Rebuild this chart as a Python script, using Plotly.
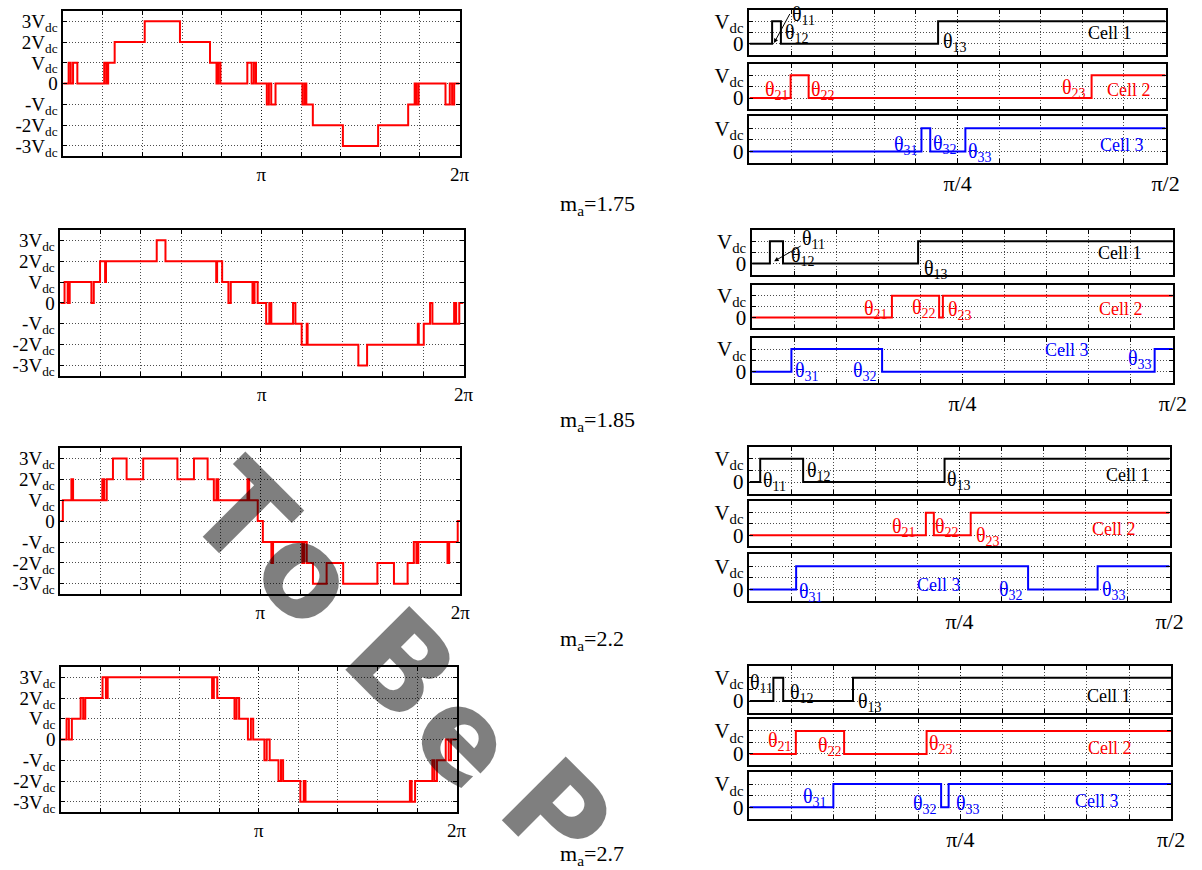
import plotly.graph_objects as go

# ---------------- data (angles in degrees) ----------------
MA_VALUES = ["1.75", "1.85", "2.2", "2.7"]
CELL1_ANGLES = [[4.9, 6.8, 40.8], [3.8, 6.6, 35.5], [2.3, 11.5, 41.8], [5.1, 7.2, 22.1]]
CELL2_ANGLES = [[8.9, 12.8, 74.0], [29.9, 40.0, 40.8], [37.8, 39.5, 47.4], [9.9, 20.2, 37.8]]
CELL3_ANGLES = [[37.2, 39.1, 46.7], [8.4, 27.8, 86.1], [10.0, 59.7, 74.6], [17.9, 40.9, 42.5]]
CELL_NAMES = ["Cell 1", "Cell 2", "Cell 3"]
LEFT_Y_VALS = [-3, -2, -1, 0, 1, 2, 3]
LEFT_Y_TEXT = ["-3V<sub>dc</sub>", "-2V<sub>dc</sub>", "-V<sub>dc</sub>", "0",
               "V<sub>dc</sub>", "2V<sub>dc</sub>", "3V<sub>dc</sub>"]
LEFT_X_VALS = [180, 360]
LEFT_X_TEXT = ["π", "2π"]
RIGHT_X_VALS = [45, 90]
RIGHT_X_TEXT = ["π/4", "π/2"]
RIGHT_Y_VALS = [0, 1]
RIGHT_Y_TEXT = ["0", "V<sub>dc</sub>"]
WATERMARK = ["T", "o", "B", "e", "P"]

# ---------------- layout geometry (window pixels) ----------------
W, H = 1202, 870
LEFT_BOX = [(64, 465, 10, 156), (61, 469, 230, 376.7), (61, 465.7, 449, 596), (61.7, 462, 669, 815)]
RIGHT_BOX = [(758.3, 1179.3, [(9, 54.3), (63, 109), (116, 163)]),
             (761, 1186.7, [(230, 275), (285, 329), (338.3, 384)]),
             (758.3, 1183.3, [(448, 495), (502.7, 548), (556, 603)]),
             (758.3, 1185, [(668, 715), (721.7, 768), (775, 821.7)])]
LABEL_POS = [
    [[(11.7, 1.25), (10.3, 0.45), (44.5, 0.07), (78, 0.47)],
     [(5.9, 0.33), (16, 0.33), (70.2, 0.4), (82, 0.36)],
     [(33.9, 0.25), (42.3, 0.32), (49.9, -0.03), (80.5, 0.3)]],
    [[(13.2, 1.06), (10.9, 0.31), (39.3, -0.26), (78.7, 0.46)],
     [(26.5, 0.37), (36.8, 0.41), (44.5, 0.34), (79, 0.37)],
     [(11.8, 0.03), (24.2, 0.03), (82.9, 0.54), (67.4, 0.96)]],
    [[(5.3, 0.03), (15, 0.43), (44.9, 0.07), (81.2, 0.31)],
     [(33.2, 0.36), (42.4, 0.36), (51.2, -0.07), (78, 0.26)],
     [(13.1, -0.13), (56, -0.03), (78, -0.03), (40.6, 0.18)]],
    [[(2.6, 0.73), (11.3, 0.32), (25.7, -0.07), (76.7, 0.23)],
     [(6.5, 0.54), (17.1, 0.32), (40.8, 0.39), (77, 0.25)],
     [(13.9, 0.44), (37.5, 0.11), (46.6, 0.11), (74.2, 0.25)]],
]
ARROWS = {0: ((5.3, 0.03), (8.9, 1.39)), 1: ((4.7, 0.1), (10.7, 0.82))}
MA_POS = [205, 422, 642, 858]
WM_POS = [(244.7, 516), (311, 575.5), (406, 666.7), (471, 739), (563, 816.7)]

CELL_COLORS = ["black", "red", "blue"]
SERIF = "Liberation Serif"
GRID_DASH = "1px,2px"
GRID_COLOR = "rgba(0,0,0,0.7)"


def px_x(a):
    return a / W


def px_y(b):
    return 1 - b / H


def xd(a, b):
    return [px_x(a), px_x(b)]


def yd(top, bottom):
    return [px_y(bottom), px_y(top)]


def cell_on(t, a):
    return (a[0] <= t < a[1]) or (t >= a[2])


def output_level(t, cells):
    # total output = sum of the three cells, with quarter-wave symmetry over the period
    if t >= 180:
        return -output_level(t - 180, cells)
    if t >= 90:
        return output_level(180 - t, cells)
    return sum(1 for a in cells if cell_on(t, a))


def axis_style(fontsize, minor_vals):
    return dict(showgrid=True, griddash=GRID_DASH, gridcolor=GRID_COLOR, gridwidth=1,
                showline=True, linecolor="black", linewidth=1.6, mirror="ticks",
                ticks="inside", ticklen=4, tickcolor="black", zeroline=False,
                tickfont=dict(family=SERIF, size=fontsize, color="black"),
                minor=dict(tickmode="array", tickvals=minor_vals, showgrid=True, griddash=GRID_DASH,
                           gridcolor=GRID_COLOR, gridwidth=1, ticks="inside",
                           ticklen=4, tickcolor="black"))


fig = go.Figure()
layout = {}
annotations = []
axis_idx = 0

for r in range(4):
    cells = [CELL1_ANGLES[r], CELL2_ANGLES[r], CELL3_ANGLES[r]]
    # ----- left: output voltage over a full period -----
    axis_idx += 1
    k = axis_idx
    pts = {0.0, 90.0, 180.0, 270.0, 360.0}
    for a in cells:
        for th in a:
            pts.update({th, 180 - th, 180 + th, 360 - th})
    bp = sorted(pts)
    xs, ys = [], []
    for i in range(len(bp) - 1):
        xs.append(bp[i])
        ys.append(output_level(0.5 * (bp[i] + bp[i + 1]), cells))
    xs.append(360)
    ys.append(ys[-1])
    fig.add_trace(go.Scatter(x=xs, y=ys, mode="lines", line=dict(color="red", width=2, shape="hv"),
                             xaxis=f"x{k}", yaxis=f"y{k}", showlegend=False, hoverinfo="skip"))
    x0, x1, t0, t1 = LEFT_BOX[r]
    layout[f"xaxis{k}"] = dict(domain=xd(x0, x1), anchor=f"y{k}", range=[0, 360],
                               tickmode="array", tickvals=LEFT_X_VALS, ticktext=LEFT_X_TEXT,
                               **axis_style(19, list(range(36, 360, 36))))
    layout[f"yaxis{k}"] = dict(domain=yd(t0, t1), anchor=f"x{k}", range=[-3.5, 3.5],
                               tickmode="array", tickvals=LEFT_Y_VALS, ticktext=LEFT_Y_TEXT,
                               **axis_style(19, []))

    # ----- right: the three cells over a quarter period -----
    rx0, rx1, cyl = RIGHT_BOX[r]
    for c in range(3):
        axis_idx += 1
        k = axis_idx
        a = cells[c]
        fig.add_trace(go.Scatter(x=[0, a[0], a[1], a[2], 90], y=[0, 1, 0, 1, 1], mode="lines",
                                 line=dict(color=CELL_COLORS[c], width=2, shape="hv"),
                                 xaxis=f"x{k}", yaxis=f"y{k}", showlegend=False, hoverinfo="skip"))
        layout[f"xaxis{k}"] = dict(domain=xd(rx0, rx1), anchor=f"y{k}", range=[0, 90],
                                   tickmode="array", tickvals=RIGHT_X_VALS, ticktext=RIGHT_X_TEXT,
                                   showticklabels=(c == 2),
                                   **axis_style(22, list(range(9, 90, 9))))
        layout[f"yaxis{k}"] = dict(domain=yd(*cyl[c]), anchor=f"x{k}", range=[-0.5, 1.5],
                                   tickmode="array", tickvals=RIGHT_Y_VALS, ticktext=RIGHT_Y_TEXT,
                                   **axis_style(21, [0.5]))
        pos = LABEL_POS[r][c]
        for j in range(3):
            annotations.append(dict(x=pos[j][0], y=pos[j][1], xref=f"x{k}", yref=f"y{k}",
                                    text=f"θ<sub>{c + 1}{j + 1}</sub>", showarrow=False,
                                    font=dict(family=SERIF, size=20, color=CELL_COLORS[c])))
        annotations.append(dict(x=pos[3][0], y=pos[3][1], xref=f"x{k}", yref=f"y{k}",
                                text=CELL_NAMES[c], showarrow=False,
                                font=dict(family=SERIF, size=18, color=CELL_COLORS[c])))
        if c == 0 and r in ARROWS:
            (hx, hy), (tx, ty) = ARROWS[r]
            annotations.append(dict(x=hx, y=hy, xref=f"x{k}", yref=f"y{k}", ax=tx, ay=ty,
                                    axref=f"x{k}", ayref=f"y{k}", text="", showarrow=True,
                                    arrowhead=2, arrowsize=0.9, arrowwidth=1, arrowcolor="black",
                                    standoff=0, startstandoff=0))

    annotations.append(dict(x=px_x(565), y=px_y(MA_POS[r]), xref="paper", yref="paper",
                            xanchor="left", yanchor="middle", showarrow=False,
                            text=f"m<sub>a</sub>={MA_VALUES[r]}",
                            font=dict(family=SERIF, size=22, color="black")))

for ch, (px, py) in zip(WATERMARK, WM_POS):
    annotations.append(dict(x=px_x(px), y=px_y(py), xref="paper", yref="paper",
                            xanchor="center", yanchor="middle", showarrow=False, textangle=45,
                            text=f"<b>{ch}</b>",
                            font=dict(family="DejaVu Sans", size=124, color="rgba(0,0,0,0.5)")))

fig.update_layout(width=W, height=H, margin=dict(l=0, r=0, t=0, b=0),
                  paper_bgcolor="white", plot_bgcolor="white",
                  annotations=annotations, **layout)
fig.write_html("out.html", config={"displayModeBar": False},
               post_script="document.body.style.margin='0';document.body.style.overflow='hidden';")
